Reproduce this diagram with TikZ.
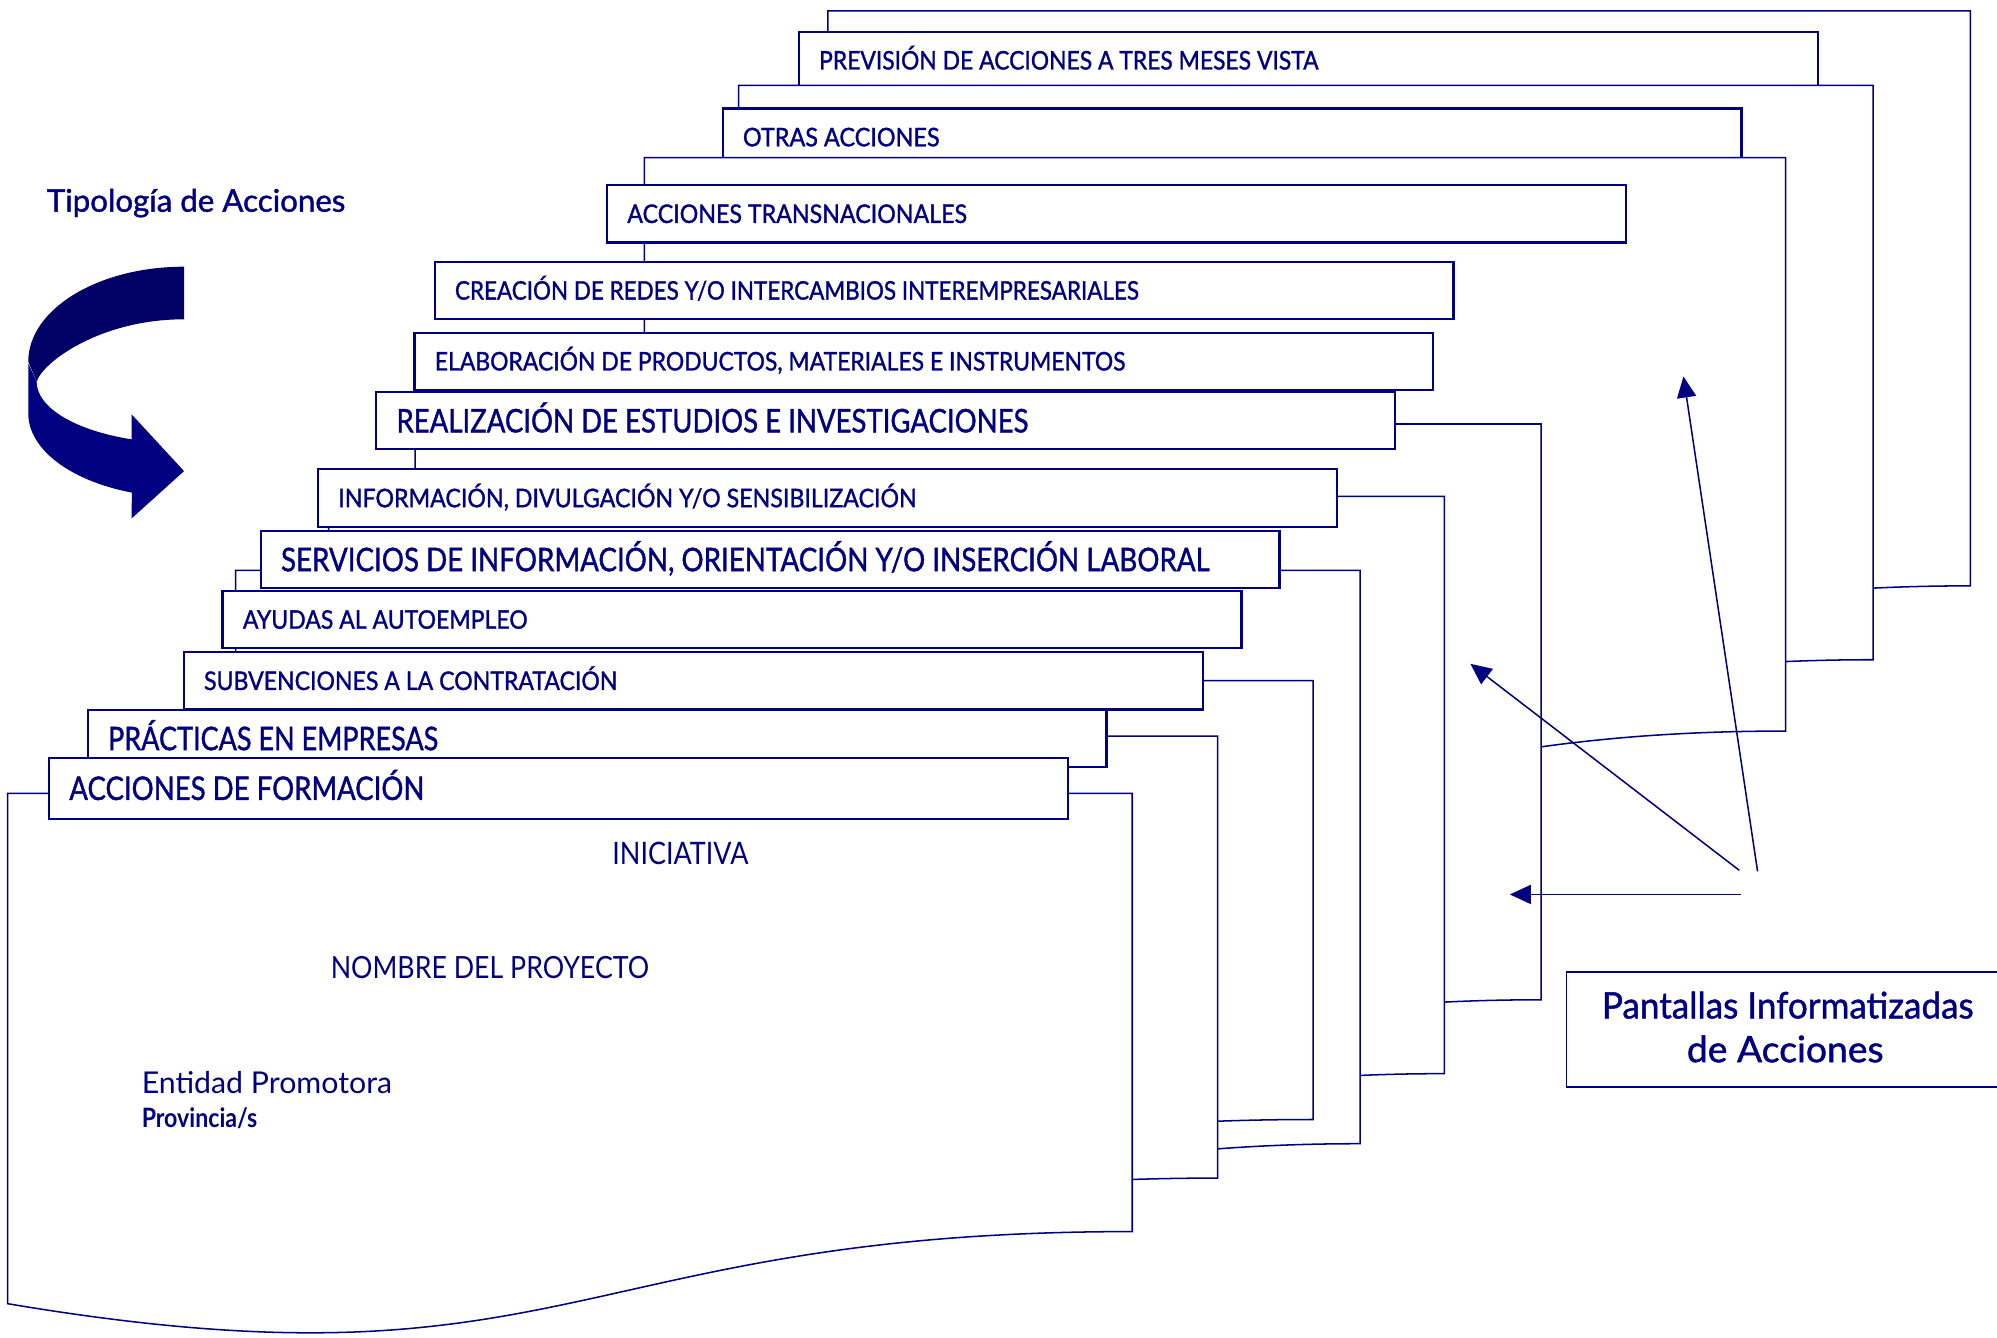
\documentclass[tikz,border=0pt]{standalone}
\usepackage{fontspec}
\setmainfont{Lato}
\newfontfamily\medfont{Lato}[FakeBold=1.3]
\usepackage{graphicx}
\usetikzlibrary{arrows.meta}
\definecolor{navy}{RGB}{0,0,128}
\definecolor{navydark}{RGB}{0,0,102}
\newcommand\fitcap[3]{\resizebox{#1pt}{#2pt}{\smash{#3}\vphantom{X}}}
\newcommand\tabtext[3]{\makebox[768pt][l]{\fitcap{#1}{#2}{\medfont #3}}}
\newcommand\docpage[4]{%
  \pgfmathsetmacro\dpH{(#4-#2)/0.802}%
  \pgfmathsetmacro\dpM{(#1+#3)/2}%
  \pgfmathsetmacro\dpL{#2+0.934*\dpH}%
  \pgfmathsetmacro\dpC{#2+1.1075*\dpH}%
  \draw[pageline] (#1,#2) -- (#3,#2) -- (#3,#4) .. controls (\dpM,#4) and (\dpM,\dpC) .. (#1,\dpL) -- cycle;}
\begin{document}
\begin{tikzpicture}[x=1pt,y=-1pt,
  pageline/.style={draw=navy, line width=1.2pt, fill=white, line join=miter},
  tabbox/.style={draw=navy, line width=1.7pt, fill=white, anchor=north west, inner xsep=16pt, inner ysep=0pt, minimum height=45pt, text=navy},
  lbl/.style={anchor=base west, inner sep=0pt, text=navy},
  ptr/.style={draw=navy, line width=1.2pt, -{Triangle[length=16.5pt,width=15pt]}}]
\useasboundingbox (0,0) rectangle (1568,1050);
\clip (0,0) rectangle (1568,1050);
\fill[white] (0,0) rectangle (1568,1050);

% pages and tabs, back to front
\docpage{650}{8.6}{1547}{460}
\node[tabbox] (t1) at (626.3,24) {\tabtext{392}{14.4}{PREVISIÓN DE ACCIONES A TRES MESES VISTA}};
\docpage{580}{67}{1470.8}{518}
\node[tabbox] (t2) at (566.5,84.3) {\tabtext{154.4}{14.4}{OTRAS ACCIONES}};
\docpage{506}{123.8}{1402}{574}
\node[tabbox] (t3) at (475.7,144.5) {\tabtext{266.7}{14.4}{ACCIONES TRANSNACIONALES}};
\node[tabbox] (t4) at (340.4,204.7) {\tabtext{536.8}{14.4}{CREACIÓN DE REDES Y/O INTERCAMBIOS INTEREMPRESARIALES}};
\node[tabbox] (t5) at (324.6,260.3) {\tabtext{542}{14.4}{ELABORACIÓN DE PRODUCTOS, MATERIALES E INSTRUMENTOS}};
\docpage{326}{332.9}{1210}{785}
\node[tabbox] (t6) at (294.5,307) {\tabtext{496}{18.3}{REALIZACIÓN DE ESTUDIOS E INVESTIGACIONES}};
\docpage{258}{389.8}{1134}{843}
\node[tabbox] (t7) at (248.8,367.7) {\tabtext{454}{14.4}{INFORMACIÓN, DIVULGACIÓN Y/O SENSIBILIZACIÓN}};
\docpage{185}{447.9}{1068}{898}
\node[tabbox] (t8) at (203.8,416) {\tabtext{729}{18.3}{SERVICIOS DE INFORMACIÓN, ORIENTACIÓN Y/O INSERCIÓN LABORAL}};
\node[tabbox] (t9) at (173.9,463.1) {\tabtext{223.5}{14.4}{AYUDAS AL AUTOEMPLEO}};
\docpage{146}{534.4}{1031}{879}
\node[tabbox] (t10) at (143.4,511.2) {\tabtext{324.4}{14.4}{SUBVENCIONES A LA CONTRATACIÓN}};
\docpage{71}{578}{956}{925}
\node[tabbox] (t11) at (68,556.5) {\tabtext{259.2}{18.3}{PRÁCTICAS EN EMPRESAS}};
\docpage{6}{623}{889}{967}
\node[tabbox, minimum height=48.2pt] (t12) at (37.6,594) {\tabtext{278.7}{18.3}{ACCIONES DE FORMACIÓN}};

% texts on the front page
\node[lbl] (ini) at (480.6,678.4) {\fitcap{106.9}{17.4}{INICIATIVA}};
\node[lbl] (nom) at (259.5,768.5) {\fitcap{249.9}{17.2}{NOMBRE DEL PROYECTO}};
\node[lbl] (ent) at (111.1,858.6) {\fitcap{196.5}{16.9}{Entidad Promotora}};
\node[lbl] (prov) at (111.1,885) {\fitcap{90.7}{15}{\bfseries Provincia/s}};

% title and curved arrow
\node[lbl] (tit) at (36.6,166.2) {\fitcap{234.3}{17.5}{\medfont Tipología de Acciones}};
\fill[navydark] (144.5,209.4) arc[start angle=270, end angle=180, x radius=122.3, y radius=74.6]
  -- (28.8,299.7) .. controls (33,285) and (78,250.7) .. (144.5,250.7) -- cycle;
\fill[navy] (22.2,285.3) -- (22.2,324.6) arc[start angle=180, end angle=109.6, x radius=122.3, y radius=66]
  -- (103.4,407) -- (144.5,369.9) -- (103.4,325.4) -- (103.4,345)
  arc[start angle=110.8, end angle=180, x radius=115.7, y radius=48.4] -- cycle;

% screens box and pointers
\node[draw=navy, line width=1.2pt, fill=white, anchor=north west, minimum width=350pt, minimum height=90pt, inner sep=0pt] (pant) at (1229.4,762.7) {};
\node[lbl] (pant1) at (1257.6,799.6) {\fitcap{291.8}{20.5}{\medfont Pantallas Informatizadas}};
\node[lbl] (pant2) at (1324.3,834) {\fitcap{154.4}{20.5}{\medfont de Acciones}};

\coordinate (a1s) at (1380,684.2);   \coordinate (a1e) at (1321.8,295.6);
\coordinate (a2s) at (1365.7,683.4); \coordinate (a2e) at (1154.5,521.2);
\coordinate (a3s) at (1366.7,702.3); \coordinate (a3e) at (1185.5,702.3);
\draw[ptr] (a1s) -- (a1e);
\draw[ptr] (a2s) -- (a2e);
\draw[ptr] (a3s) -- (a3e);
\end{tikzpicture}
\end{document}
